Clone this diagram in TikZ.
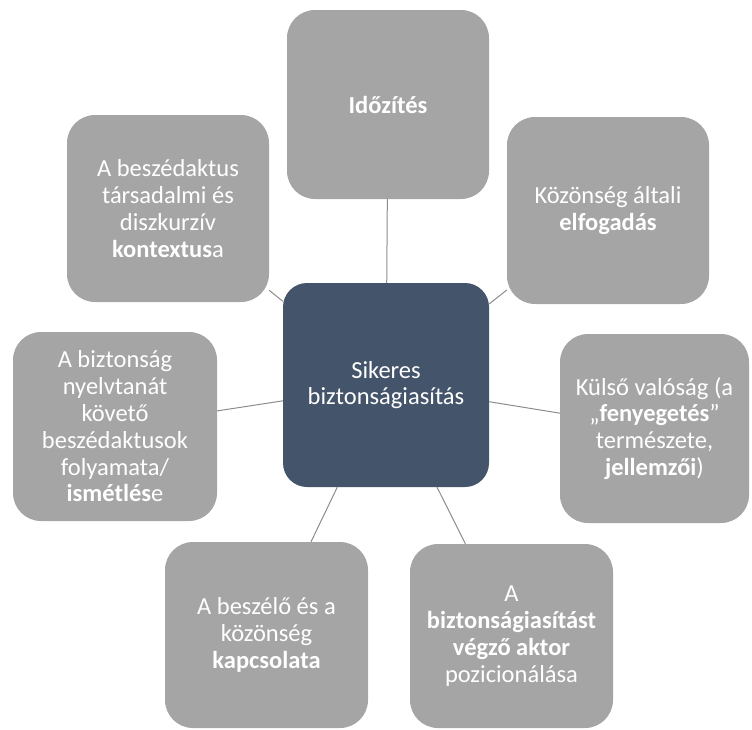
\documentclass[tikz,border=0pt]{standalone}
\usepackage{fontspec}
\setmainfont{Carlito}
\definecolor{boxgrey}{HTML}{A5A5A5}
\definecolor{ctrblue}{HTML}{44546A}
\definecolor{linegrey}{HTML}{8C8C8C}
\begin{document}
\begin{tikzpicture}[x=1pt,y=-1pt,
  box/.style={rectangle, rounded corners=28pt, fill=boxgrey, text=white,
    align=center, inner sep=0pt,
    font=\fontsize{24.5}{26.8}\selectfont},
  ctrbox/.style={box, fill=ctrblue, rounded corners=24pt},
  conn/.style={draw=linegrey, line width=1pt}]
\useasboundingbox (0,0) rectangle (752,729);
\node[ctrbox, minimum width=206pt, minimum height=204pt] (ctr) at (386,385) {Sikeres\\biztonságiasítás};
\node[box, minimum width=202pt, minimum height=189pt] (tim) at (388,104.5) {\textbf{Időzítés}};
\node[box, minimum width=202pt, minimum height=187pt] (acc) at (608,210.5) {Közönség általi\\\textbf{elfogadás}};
\node[box, minimum width=189pt, minimum height=189pt] (ext) at (654.5,428.5) {Külső valóság (a\\„\textbf{fenyegetés}”\\természete,\\\textbf{jellemzői})};
\node[box, minimum width=203pt, minimum height=184pt] (act) at (511.5,636) {A\\\textbf{biztonságiasítást}\\\textbf{végző aktor}\\pozicionálása};
\node[box, minimum width=203pt, minimum height=186pt] (rel) at (266.5,635) {A beszélő és a\\közönség\\\textbf{kapcsolata}};
\node[box, minimum width=204pt, minimum height=189pt] (seq) at (115,426.5) {A biztonság\\nyelvtanát\\követő\\beszédaktusok\\folyamata/\\\textbf{ismétlés}e};
\node[box, minimum width=202pt, minimum height=187pt] (ctx) at (168,208.5) {A beszédaktus\\társadalmi és\\diszkurzív\\\textbf{kontextus}a};
\foreach \n in {tim,acc,ext,act,rel,seq,ctx}
  \draw[conn] (ctr) -- (\n);
\end{tikzpicture}
\end{document}
